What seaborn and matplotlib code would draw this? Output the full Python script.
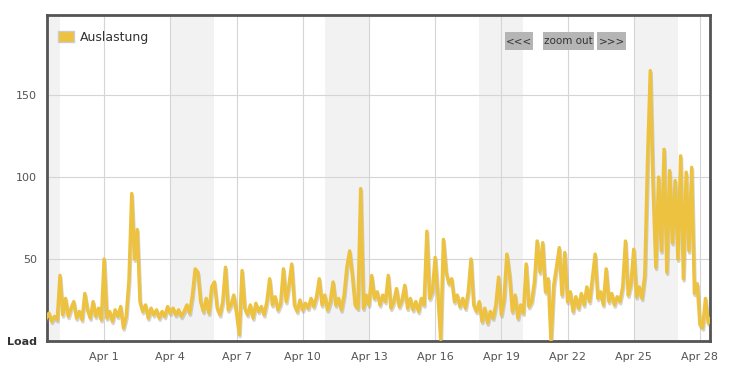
import numpy as np
import pandas as pd
import matplotlib
matplotlib.use("Agg")
import matplotlib.pyplot as plt
import matplotlib.patheffects as pe
from matplotlib.patches import Patch, Rectangle
import seaborn as sns

# ---------------- data ----------------
series_name = "Auslastung"
start_time = "2015-03-29 09:00"
step_hours = 3
load_values = [
    14, 17, 12, 15, 13, 40, 16, 26, 15, 20, 24, 14, 18, 13, 29, 19, 14, 24, 15, 20,
    13, 50, 14, 18, 12, 19, 15, 21, 8, 15, 37, 90, 50, 68, 24, 18, 22, 14, 20, 16,
    19, 14, 18, 15, 21, 17, 20, 16, 19, 15, 18, 22, 17, 28, 44, 42, 24, 18, 26, 17,
    33, 36, 20, 16, 24, 45, 19, 22, 28, 17, 4, 43, 20, 16, 22, 14, 23, 18, 21, 16,
    24, 38, 22, 27, 19, 23, 44, 24, 34, 47, 22, 18, 25, 19, 23, 20, 26, 21, 27, 38,
    22, 28, 19, 24, 36, 22, 26, 19, 28, 45, 55, 40, 22, 20, 93, 20, 28, 22, 40, 26,
    30, 22, 28, 24, 40, 20, 24, 32, 21, 25, 34, 20, 26, 19, 24, 18, 26, 22, 67, 26,
    30, 51, 28, 1, 62, 42, 35, 38, 24, 28, 21, 26, 20, 30, 50, 22, 18, 24, 12, 20,
    11, 18, 14, 22, 39, 16, 26, 53, 40, 18, 28, 14, 22, 17, 47, 21, 24, 36, 61, 42,
    60, 30, 38, 0, 34, 45, 57, 28, 54, 24, 30, 18, 27, 20, 29, 22, 33, 24, 38, 53,
    26, 30, 22, 44, 24, 29, 22, 27, 24, 33, 61, 28, 35, 56, 27, 33, 26, 40, 110, 165,
    95, 45, 100, 55, 117, 42, 104, 60, 98, 50, 113, 38, 103, 55, 106, 29, 35, 10, 8, 26,
    11, 14, 12,
]
tick_dates = ["2015-04-01", "2015-04-04", "2015-04-07", "2015-04-10", "2015-04-13",
              "2015-04-16", "2015-04-19", "2015-04-22", "2015-04-25", "2015-04-28"]
tick_labels = ["Apr 1", "Apr 4", "Apr 7", "Apr 10", "Apr 13",
               "Apr 16", "Apr 19", "Apr 22", "Apr 25", "Apr 28"]
y_ticks = [0, 50, 100, 150]
y_tick_labels = ["Load", "50", "100", "150"]
weekend_starts = ["2015-03-28", "2015-04-04", "2015-04-11", "2015-04-18", "2015-04-25"]
button_labels = ["<<<", "zoom out", ">>>"]

# ---------------- build ----------------
times = pd.date_range(start_time, periods=len(load_values), freq=f"{step_hours}h")
df = pd.DataFrame({"time": times, "load": load_values})

W, H = 733, 375
fig = plt.figure(figsize=(W / 100, H / 100), dpi=100)
left_px, right_px, top_px, bottom_px = 47, 710, 15, 341
ax = fig.add_axes([left_px / W, 1 - bottom_px / H,
                   (right_px - left_px) / W, (bottom_px - top_px) / H])

line_color = "#edc240"
text_color = "#545454"

# weekend bands
for ws in weekend_starts:
    s = pd.Timestamp(ws)
    ax.axvspan(s, s + pd.Timedelta(days=2), color="#f2f2f2", lw=0, zorder=0)

sns.lineplot(data=df, x="time", y="load", ax=ax, color=line_color, lw=2.5,
             legend=False, zorder=3,
             path_effects=[pe.SimpleLineShadow(offset=(0.6, -1.6), shadow_color="#888888", alpha=0.35),
                           pe.Normal()])

ax.set_xlim(pd.Timestamp("2015-03-29 09:50"), pd.Timestamp("2015-04-28 10:55"))
ax.set_ylim(0, 199)

ax.set_xticks(pd.to_datetime(tick_dates))
ax.set_xticklabels(tick_labels)
ax.set_yticks(y_ticks)
ax.set_yticklabels(y_tick_labels)
ax.tick_params(axis="both", length=0, labelsize=8, colors=text_color)
ax.tick_params(axis="x", pad=8)
ax.tick_params(axis="y", pad=7)
ax.get_yticklabels()[0].set_fontweight("bold")
ax.get_yticklabels()[0].set_color("#333333")
ax.set_xlabel("")
ax.set_ylabel("")

ax.grid(True, color="#d5d5d5", lw=0.8, zorder=1)
ax.set_axisbelow(True)
for sp in ax.spines.values():
    sp.set_color(text_color)
    sp.set_linewidth(2)

# legend
handle = Patch(facecolor=line_color, edgecolor="#cccccc", lw=1)
leg = ax.legend([handle], [series_name], loc="upper left", bbox_to_anchor=(0.005, 0.975),
                frameon=False, fontsize=9, handlelength=1.3, handleheight=1.0,
                handletextpad=0.45, borderaxespad=0.2)
for t in leg.get_texts():
    t.set_color("#333333")

# navigation buttons
button_boxes = [(505, 533), (543, 594), (597, 626)]
by0, by1 = 32, 50
for lab, (bx0, bx1) in zip(button_labels, button_boxes):
    fig.patches.append(Rectangle((bx0 / W, 1 - by1 / H), (bx1 - bx0) / W, (by1 - by0) / H,
                                 transform=fig.transFigure, facecolor="#b5b5b5",
                                 edgecolor="none", zorder=5))
    fig.text((bx0 + bx1) / 2 / W, 1 - (by0 + by1) / 2 / H, lab, ha="center", va="center",
             fontsize=7.5, color="#333333", zorder=6)

fig.savefig("out.png", dpi=100)
